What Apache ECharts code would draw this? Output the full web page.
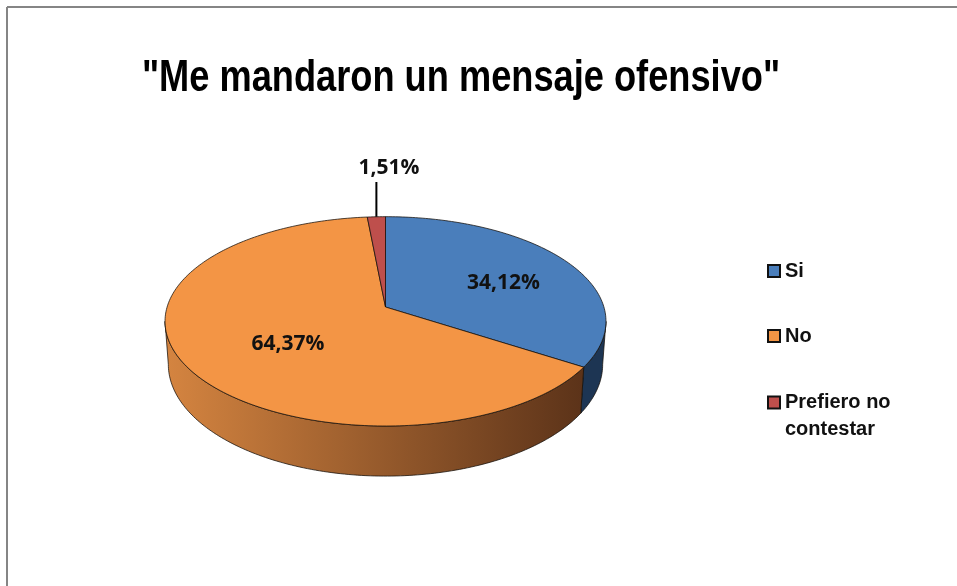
<!DOCTYPE html>
<html>
<head>
<meta charset="utf-8">
<style>
html,body{margin:0;padding:0;background:#fff}
#chart{width:957px;height:586px}
</style>
<script src="https://cdn.jsdelivr.net/npm/echarts@6/dist/echarts.min.js"></script>
</head>
<body>
<div id="chart"></div>
<script>
var titleText = '"Me mandaron un mensaje ofensivo"';
var categories = ['Si', 'No', 'Prefiero no\ncontestar'];
var values = [34.12, 64.37, 1.51];
var topColors = ['#4A7EBB', '#F39545', '#BE4F4C'];
var wallColors = [['#1D3553', '#1D3553'], ['#D48440', '#5C3319'], ['#7A2F2D', '#7A2F2D']];

// tilted disc: circle pushed through a small perspective so the apex sits above the ellipse middle
var cx = 385.5, cy = 307, rx = 218.4, ry = 102.7, persp = -0.137;
var wallFrom = 97.9, wallTo = 262.1; // part of the rim that faces the viewer, in degrees
var labelPos = [[503.5, 283], [288, 344], [389, 168]];
var legendTops = [257.5, 322.5, 362];

function topPoint(deg) {
    var a = deg * Math.PI / 180;
    var u = Math.sin(a), v = -Math.cos(a), d = 1 + persp * v;
    return [cx + rx * u / d, cy + ry * v / d];
}
function bottomPoint(deg) {
    var p = topPoint(deg);
    return [cx + (p[0] - cx) * 0.985, cy + (p[1] - cy) * 1.068 + 42];
}
function arc(fn, from, to) {
    var pts = [];
    var n = Math.max(2, Math.ceil(Math.abs(to - from)));
    for (var i = 0; i <= n; i++) {
        pts.push(fn(from + (to - from) * i / n));
    }
    return pts;
}

var total = values.reduce(function (s, v) { return s + v; }, 0);

function sliceRender(idx, start, end) {
    return function () {
        var children = [];
        var from = Math.max(start, wallFrom), to = Math.min(end, wallTo);
        if (to > from) {
            children.push({
                type: 'polygon',
                z2: 1,
                shape: { points: arc(topPoint, from, to).concat(arc(bottomPoint, to, from)) },
                style: {
                    fill: new echarts.graphic.LinearGradient(168, 0, 582, 0, [
                        { offset: 0, color: wallColors[idx][0] },
                        { offset: 1, color: wallColors[idx][1] }
                    ], true),
                    stroke: 'rgba(20,15,10,0.75)',
                    lineWidth: 1
                }
            });
        }
        children.push({
            type: 'polygon',
            z2: 2,
            shape: { points: [[cx, cy]].concat(arc(topPoint, start, end)) },
            style: { fill: topColors[idx], stroke: 'rgba(20,15,10,0.75)', lineWidth: 1 }
        });
        children.push({
            type: 'text',
            z2: 6,
            style: {
                x: labelPos[idx][0],
                y: labelPos[idx][1],
                text: values[idx].toFixed(2).replace('.', ',') + '%',
                align: 'center',
                verticalAlign: 'middle',
                fill: '#111',
                font: 'bold 21px "Open Sans"'
            }
        });
        // leader line only for the tiny slice
        if (values[idx] < 5) {
            var mid = topPoint((start + end) / 2);
            children.push({
                type: 'line',
                z2: 5,
                shape: { x1: mid[0], y1: mid[1], x2: mid[0], y2: 182 },
                style: { stroke: '#000', lineWidth: 2 }
            });
        }
        return { type: 'group', children: children };
    };
}

var series = [];
var acc = 0;
categories.forEach(function (name, i) {
    var start = acc / total * 360;
    acc += values[i];
    var end = acc / total * 360;
    series.push({
        type: 'custom',
        name: name,
        coordinateSystem: 'none',
        silent: true,
        itemStyle: { color: topColors[i] },
        data: [values[i]],
        renderItem: sliceRender(i, start, end)
    });
});

// one legend per entry, the marker has to line up with the first line of the wrapped name
var legends = categories.map(function (name, i) {
    return {
        orient: 'vertical',
        left: 767,
        top: legendTops[i],
        padding: 0,
        icon: 'rect',
        itemWidth: 12,
        itemHeight: 12,
        selectedMode: false,
        itemStyle: { borderColor: '#111', borderWidth: 2 },
        textStyle: {
            fontFamily: '"Liberation Sans"',
            fontWeight: 'bold',
            fontSize: 20,
            lineHeight: 27,
            color: '#111'
        },
        formatter: function (n) {
            return n.indexOf('\n') >= 0 ? ' \n' + n : n;
        },
        data: [name]
    };
});

var chart = echarts.init(document.getElementById('chart'));
chart.setOption({
    animation: false,
    backgroundColor: '#fff',
    legend: legends,
    graphic: [
        { type: 'line', shape: { x1: 7, y1: 7, x2: 957, y2: 7 }, style: { stroke: '#858585', lineWidth: 2 } },
        { type: 'line', shape: { x1: 7, y1: 7, x2: 7, y2: 586 }, style: { stroke: '#858585', lineWidth: 2 } },
        {
            type: 'text',
            x: 461,
            y: 79,
            scaleX: 0.805,
            style: {
                text: titleText,
                align: 'center',
                verticalAlign: 'middle',
                fill: '#000',
                font: 'bold 45px "Liberation Sans"'
            }
        }
    ],
    series: series
});
window.addEventListener('resize', function () { chart.resize(); });
</script>
</body>
</html>
